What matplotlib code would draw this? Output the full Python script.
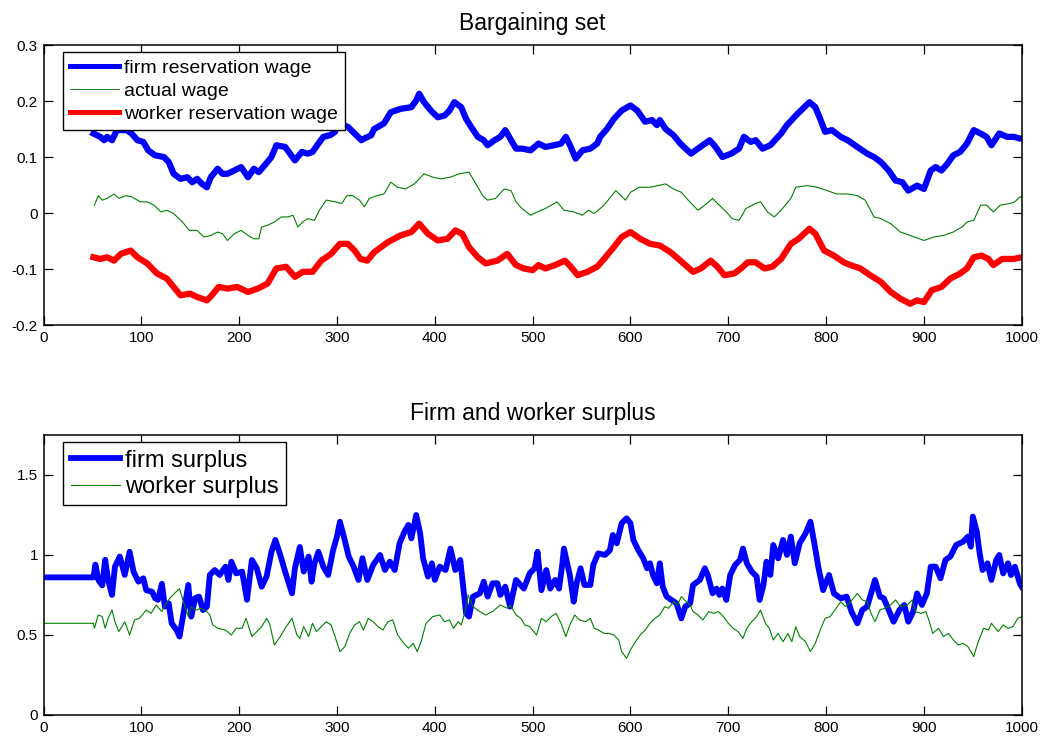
import matplotlib
matplotlib.use("Agg")
import matplotlib.pyplot as plt
from matplotlib.ticker import FuncFormatter

plt.rcParams.update({
    "font.family": ["Liberation Sans", "DejaVu Sans"],
    "axes.unicode_minus": False,
    "xtick.direction": "in",
    "ytick.direction": "in",
    "xtick.top": True,
    "ytick.right": True,
    "xtick.major.size": 6.5,
    "ytick.major.size": 6.5,
    "xtick.major.width": 0.9,
    "ytick.major.width": 0.9,
    "axes.linewidth": 1.1,
    "xtick.labelsize": 11,
    "ytick.labelsize": 11,
})

# ── data (period, value) ─────────────────────────────────────────────
firm_res_t = [51, 58, 62, 65, 70, 75, 85, 90, 96, 102, 107, 114, 123, 128, 133, 140, 147, 152, 157, 162,
              167, 171, 178, 183, 188, 195, 202, 209, 215, 220, 226, 233, 238, 247, 252, 257, 264, 270, 275, 281,
              286, 293, 298, 301, 311, 318, 325, 328, 335, 338, 348, 355, 365, 376, 381, 384, 389, 396, 403, 410,
              415, 420, 427, 432, 437, 444, 450, 454, 461, 467, 472, 478, 483, 489, 498, 506, 513, 522, 529, 534,
              539, 544, 551, 559, 566, 569, 576, 583, 591, 600, 607, 615, 622, 627, 630, 636, 644, 651, 662, 669,
              681, 687, 694, 703, 711, 716, 723, 728, 735, 743, 754, 760, 769, 776, 783, 789, 794, 799, 806, 815,
              822, 832, 842, 849, 856, 864, 871, 878, 884, 893, 900, 907, 912, 918, 924, 930, 937, 944, 951, 958,
              964, 969, 977, 985, 992, 998, 1000]
firm_res_v = [0.142, 0.136, 0.130, 0.136, 0.130, 0.148, 0.148, 0.142, 0.130, 0.127, 0.112, 0.103, 0.100, 0.091,
              0.070, 0.061, 0.064, 0.055, 0.061, 0.052, 0.046, 0.064, 0.079, 0.070, 0.070, 0.076, 0.082, 0.064,
              0.079, 0.073, 0.085, 0.100, 0.121, 0.118, 0.106, 0.094, 0.109, 0.106, 0.109, 0.124, 0.136, 0.139,
              0.145, 0.160, 0.154, 0.142, 0.130, 0.133, 0.139, 0.150, 0.160, 0.180, 0.186, 0.189, 0.201, 0.213,
              0.198, 0.183, 0.171, 0.174, 0.183, 0.198, 0.189, 0.168, 0.154, 0.136, 0.130, 0.121, 0.130, 0.136,
              0.148, 0.130, 0.115, 0.115, 0.112, 0.124, 0.118, 0.121, 0.124, 0.136, 0.118, 0.097, 0.112, 0.115,
              0.124, 0.136, 0.150, 0.168, 0.183, 0.192, 0.183, 0.163, 0.166, 0.157, 0.166, 0.150, 0.139, 0.124,
              0.106, 0.115, 0.130, 0.118, 0.100, 0.106, 0.115, 0.136, 0.127, 0.130, 0.115, 0.121, 0.142, 0.157,
              0.174, 0.186, 0.198, 0.189, 0.168, 0.145, 0.148, 0.136, 0.130, 0.118, 0.106, 0.100, 0.091, 0.076,
              0.058, 0.055, 0.040, 0.049, 0.043, 0.076, 0.082, 0.076, 0.088, 0.103, 0.109, 0.124, 0.148, 0.142,
              0.136, 0.121, 0.142, 0.136, 0.136, 0.133, 0.133]

wage_t = [52, 56, 60, 65, 72, 77, 84, 90, 99, 106, 113, 120, 126, 133, 142, 149, 157, 164, 171, 178,
          183, 188, 195, 202, 209, 215, 220, 223, 229, 236, 243, 250, 255, 260, 265, 270, 277, 282, 289, 298,
          305, 310, 316, 323, 328, 333, 341, 348, 355, 362, 370, 379, 389, 398, 406, 416, 425, 435, 442, 449,
          454, 462, 471, 478, 483, 489, 498, 505, 513, 525, 532, 542, 551, 557, 563, 573, 585, 595, 600, 609,
          620, 636, 644, 652, 659, 669, 676, 684, 689, 698, 704, 711, 718, 728, 733, 740, 747, 754, 764, 769,
          781, 791, 801, 811, 822, 832, 840, 849, 856, 866, 876, 886, 900, 910, 920, 930, 939, 944, 951, 958,
          964, 971, 978, 988, 993, 998, 1000]
wage_v = [0.014, 0.031, 0.023, 0.026, 0.034, 0.026, 0.031, 0.029, 0.020, 0.020, 0.014, 0.002, 0.005, -0.001,
          -0.016, -0.031, -0.031, -0.043, -0.040, -0.034, -0.037, -0.049, -0.037, -0.031, -0.040, -0.046,
          -0.046, -0.025, -0.022, -0.016, -0.007, -0.007, -0.004, -0.025, -0.016, -0.010, -0.013, 0.005, 0.023,
          0.020, 0.017, 0.031, 0.031, 0.023, 0.011, 0.026, 0.031, 0.034, 0.055, 0.046, 0.043, 0.052, 0.070,
          0.064, 0.061, 0.064, 0.070, 0.073, 0.052, 0.031, 0.023, 0.026, 0.043, 0.040, 0.020, 0.008, -0.004,
          0.002, 0.008, 0.020, 0.005, 0.002, -0.004, 0.005, -0.001, 0.014, 0.040, 0.023, 0.037, 0.046, 0.046,
          0.052, 0.043, 0.037, 0.023, 0.005, 0.014, 0.026, 0.017, 0.002, -0.010, -0.013, 0.008, 0.017, 0.020,
          0.002, -0.007, 0.005, 0.026, 0.046, 0.049, 0.046, 0.040, 0.034, 0.034, 0.031, 0.023, -0.007, -0.010,
          -0.019, -0.034, -0.040, -0.049, -0.043, -0.040, -0.034, -0.025, -0.016, -0.013, 0.014, 0.014, 0.002,
          0.014, 0.017, 0.020, 0.029, 0.027]

worker_res_t = [51, 58, 65, 72, 79, 89, 96, 106, 116, 126, 133, 140, 150, 157, 167, 172, 179, 188, 198, 209,
                219, 229, 238, 248, 257, 265, 275, 284, 294, 303, 311, 318, 324, 331, 338, 352, 365, 376, 384, 393,
                403, 413, 421, 428, 435, 444, 452, 464, 474, 483, 491, 500, 506, 513, 523, 533, 539, 546, 556, 566,
                573, 583, 591, 600, 610, 620, 630, 641, 651, 664, 672, 682, 689, 696, 706, 713, 720, 728, 737, 745,
                754, 764, 772, 783, 789, 798, 808, 818, 825, 835, 845, 856, 866, 876, 886, 893, 900, 908, 918, 927,
                937, 944, 951, 959, 966, 971, 980, 992, 1000]
worker_res_v = [-0.079, -0.082, -0.079, -0.085, -0.073, -0.067, -0.079, -0.090, -0.108, -0.117, -0.132, -0.147,
                -0.144, -0.150, -0.156, -0.147, -0.132, -0.135, -0.132, -0.141, -0.135, -0.126, -0.099, -0.096,
                -0.114, -0.105, -0.105, -0.085, -0.073, -0.055, -0.055, -0.067, -0.082, -0.085, -0.070, -0.052,
                -0.040, -0.034, -0.019, -0.037, -0.049, -0.046, -0.031, -0.037, -0.061, -0.079, -0.090, -0.085,
                -0.073, -0.093, -0.099, -0.102, -0.093, -0.099, -0.093, -0.085, -0.096, -0.111, -0.105, -0.096,
                -0.082, -0.061, -0.043, -0.034, -0.046, -0.055, -0.058, -0.070, -0.085, -0.105, -0.099, -0.085,
                -0.096, -0.111, -0.108, -0.099, -0.088, -0.088, -0.099, -0.096, -0.082, -0.055, -0.046, -0.028,
                -0.037, -0.067, -0.076, -0.088, -0.093, -0.099, -0.111, -0.123, -0.141, -0.153, -0.162, -0.156,
                -0.159, -0.138, -0.132, -0.117, -0.108, -0.099, -0.079, -0.076, -0.082, -0.093, -0.082, -0.082,
                -0.079]

firm_surplus_t = [1, 51, 53, 56, 60, 63, 66, 70, 73, 78, 83, 88, 92, 97, 102, 105, 111, 114, 117, 121,
                  124, 128, 131, 136, 139, 143, 148, 151, 155, 159, 163, 167, 170, 175, 180, 186, 189, 192, 197, 203,
                  208, 213, 218, 223, 228, 233, 237, 242, 247, 254, 257, 262, 266, 271, 274, 277, 281, 286, 291, 296,
                  300, 303, 307, 312, 317, 322, 326, 331, 337, 344, 349, 354, 359, 364, 369, 373, 376, 381, 385, 388,
                  393, 397, 400, 405, 411, 416, 421, 426, 429, 432, 435, 439, 446, 450, 454, 459, 464, 467, 472, 477,
                  483, 491, 497, 502, 505, 509, 514, 518, 523, 527, 530, 532, 538, 542, 545, 549, 553, 559, 562, 567,
                  574, 579, 582, 586, 591, 596, 600, 603, 608, 613, 617, 620, 623, 627, 630, 633, 637, 642, 647, 652,
                  656, 661, 664, 671, 676, 679, 684, 688, 691, 694, 698, 702, 707, 712, 715, 719, 724, 729, 732, 736,
                  739, 743, 746, 751, 756, 760, 764, 768, 773, 779, 784, 788, 792, 797, 803, 808, 815, 821, 826, 832,
                  837, 842, 846, 850, 855, 859, 864, 869, 875, 880, 884, 889, 893, 898, 903, 907, 912, 917, 922, 927,
                  933, 940, 945, 948, 950, 954, 957, 960, 965, 969, 974, 977, 981, 986, 989, 993, 998, 1000]
firm_surplus_v = [0.86, 0.86, 0.94, 0.844, 0.81, 0.97, 0.844, 0.75, 0.927, 0.99, 0.875, 1.02, 0.896, 0.833,
                  0.854, 0.78, 0.77, 0.73, 0.72, 0.82, 0.677, 0.698, 0.573, 0.531, 0.49, 0.635, 0.8125, 0.615, 0.73,
                  0.74, 0.656, 0.677, 0.875, 0.906, 0.875, 0.927, 0.844, 0.958, 0.885, 0.896, 0.72, 0.969, 0.917,
                  0.802, 0.865, 1.02, 1.094, 1.0, 0.896, 0.76, 0.917, 1.05, 0.896, 0.99, 0.833, 0.948, 1.02, 0.927,
                  0.875, 1.03, 1.115, 1.208, 1.115, 0.99, 0.927, 0.844, 0.98, 0.844, 0.9375, 1.0, 0.906, 0.958,
                  0.906, 1.073, 1.146, 1.1875, 1.104, 1.25, 1.135, 0.98, 0.865, 0.948, 0.844, 0.927, 0.906, 1.04,
                  0.906, 0.969, 0.802, 0.635, 0.615, 0.74, 0.76, 0.833, 0.74, 0.823, 0.823, 0.75, 0.802, 0.677,
                  0.844, 0.79, 0.885, 0.917, 1.02, 0.78, 0.906, 0.79, 0.844, 0.79, 0.927, 1.04, 0.875, 0.708, 0.823,
                  0.917, 0.8125, 0.8125, 0.9375, 1.01, 1.0, 1.03, 1.125, 1.073, 1.198, 1.229, 1.198, 1.094, 1.03,
                  0.98, 0.917, 0.948, 0.875, 0.823, 0.948, 0.802, 0.74, 0.719, 0.698, 0.604, 0.677, 0.698, 0.8125,
                  0.844, 0.917, 0.875, 0.76, 0.79, 0.75, 0.79, 0.719, 0.875, 0.9375, 0.969, 1.04, 0.948, 0.896,
                  0.865, 0.719, 0.8125, 0.958, 0.875, 1.0625, 0.979, 1.094, 1.0, 1.115, 0.948, 1.073, 1.135, 1.208,
                  1.073, 0.927, 0.78, 0.875, 0.76, 0.729, 0.74, 0.646, 0.573, 0.656, 0.677, 0.76, 0.844, 0.74,
                  0.729, 0.656, 0.583, 0.656, 0.688, 0.583, 0.646, 0.76, 0.688, 0.76, 0.927, 0.927, 0.854, 0.969,
                  0.99, 1.0625, 1.083, 1.115, 1.052, 1.24, 1.146, 1.01, 0.906, 0.948, 0.844, 0.969, 1.0, 0.885,
                  0.948, 0.875, 0.927, 0.823, 0.802]

worker_surplus_t = [1, 51, 52, 56, 60, 63, 66, 70, 73, 77, 83, 88, 93, 98, 105, 110, 115, 121, 124, 129,
                    134, 139, 143, 148, 151, 156, 161, 167, 170, 173, 178, 186, 192, 197, 203, 207, 213, 218, 223, 228,
                    231, 236, 242, 247, 254, 259, 262, 266, 271, 275, 279, 284, 289, 294, 298, 303, 308, 313, 318, 323,
                    327, 332, 337, 342, 347, 352, 357, 362, 367, 373, 378, 382, 386, 391, 398, 405, 410, 415, 419, 424,
                    427, 431, 434, 439, 446, 452, 459, 467, 474, 477, 483, 488, 492, 497, 504, 509, 514, 519, 524, 529,
                    534, 538, 543, 548, 554, 559, 563, 567, 573, 578, 583, 588, 591, 596, 600, 605, 610, 615, 620, 625,
                    630, 635, 639, 644, 648, 652, 657, 661, 664, 669, 674, 680, 685, 690, 695, 700, 705, 710, 715, 719,
                    724, 729, 733, 738, 742, 746, 751, 756, 761, 765, 769, 773, 779, 784, 789, 794, 799, 804, 809, 815,
                    820, 825, 832, 837, 842, 846, 850, 855, 860, 866, 871, 876, 883, 888, 891, 897, 902, 905, 909, 915,
                    920, 925, 930, 935, 940, 945, 951, 955, 961, 966, 969, 976, 981, 986, 991, 996, 1000]
worker_surplus_v = [0.573, 0.573, 0.542, 0.625, 0.615, 0.542, 0.604, 0.656, 0.583, 0.521, 0.583, 0.5, 0.594,
                    0.604, 0.656, 0.635, 0.6875, 0.646, 0.6875, 0.729, 0.76, 0.79, 0.708, 0.615, 0.677, 0.656,
                    0.667, 0.646, 0.625, 0.5625, 0.542, 0.531, 0.5, 0.542, 0.542, 0.604, 0.49, 0.521, 0.552, 0.604,
                    0.573, 0.4375, 0.49, 0.542, 0.604, 0.5, 0.479, 0.552, 0.49, 0.573, 0.521, 0.552, 0.583, 0.5625,
                    0.49, 0.396, 0.427, 0.51, 0.5625, 0.583, 0.531, 0.604, 0.583, 0.552, 0.531, 0.583, 0.594, 0.5,
                    0.458, 0.417, 0.448, 0.396, 0.458, 0.573, 0.615, 0.625, 0.583, 0.594, 0.542, 0.583, 0.5625,
                    0.646, 0.75, 0.677, 0.646, 0.625, 0.646, 0.6875, 0.667, 0.6875, 0.625, 0.604, 0.5625, 0.552,
                    0.5, 0.604, 0.583, 0.615, 0.635, 0.573, 0.49, 0.5625, 0.625, 0.594, 0.583, 0.604, 0.542, 0.531,
                    0.51, 0.51, 0.5, 0.469, 0.396, 0.354, 0.406, 0.458, 0.5, 0.531, 0.573, 0.604, 0.625, 0.677,
                    0.667, 0.708, 0.6875, 0.74, 0.708, 0.6875, 0.646, 0.625, 0.594, 0.646, 0.635, 0.646, 0.615,
                    0.573, 0.542, 0.521, 0.479, 0.542, 0.583, 0.615, 0.656, 0.573, 0.542, 0.469, 0.51, 0.458, 0.51,
                    0.458, 0.552, 0.49, 0.458, 0.396, 0.448, 0.531, 0.604, 0.615, 0.656, 0.708, 0.677, 0.708, 0.76,
                    0.719, 0.708, 0.635, 0.583, 0.656, 0.667, 0.6875, 0.719, 0.677, 0.6875, 0.719, 0.646, 0.635,
                    0.646, 0.594, 0.51, 0.542, 0.49, 0.51, 0.469, 0.4375, 0.448, 0.427, 0.365, 0.448, 0.542, 0.531,
                    0.573, 0.521, 0.5625, 0.542, 0.552, 0.604, 0.615]

BLUE, GREEN, RED = "#0000ff", "#008000", "#ff0000"
fmt = FuncFormatter(lambda v, _: f"{v:g}")

fig = plt.figure(figsize=(10.49, 7.38), dpi=100)

# ── top panel: bargaining set ─────────────────────────────────────────
ax1 = fig.add_axes([0.0415, 0.5596, 0.9325, 0.3794])
ax1.plot(firm_res_t, firm_res_v, color=BLUE, lw=4.5, solid_joinstyle="round", label="firm reservation wage")
ax1.plot(wage_t, wage_v, color=GREEN, lw=0.8, label="actual wage")
ax1.plot(worker_res_t, worker_res_v, color=RED, lw=4.5, solid_joinstyle="round", label="worker reservation wage")
ax1.set_xlim(0, 1000)
ax1.set_ylim(-0.2, 0.3)
ax1.set_xticks(range(0, 1001, 100))
ax1.set_yticks([-0.2, -0.1, 0, 0.1, 0.2, 0.3])
ax1.yaxis.set_major_formatter(fmt)
ax1.tick_params(pad=4)
ax1.set_title("Bargaining set", fontsize=16.5, pad=11)
leg1 = ax1.legend(loc="upper left", bbox_to_anchor=(0.02, 0.975), borderaxespad=0, fontsize=14,
                  fancybox=False, edgecolor="black", framealpha=1, handlelength=2.5, handletextpad=0.25,
                  labelspacing=0.27, borderpad=0.38)
leg1.get_frame().set_linewidth(1.0)
for h in leg1.get_lines():
    h.set_linewidth(h.get_linewidth() * 0.8)

# ── bottom panel: surpluses ───────────────────────────────────────────
ax2 = fig.add_axes([0.0415, 0.0312, 0.9325, 0.3794])
ax2.plot(firm_surplus_t, firm_surplus_v, color=BLUE, lw=4.2, solid_joinstyle="round", label="firm surplus")
ax2.plot(worker_surplus_t, worker_surplus_v, color=GREEN, lw=0.8, label="worker surplus")
ax2.set_xlim(0, 1000)
ax2.set_ylim(0, 1.75)
ax2.set_xticks(range(0, 1001, 100))
ax2.set_yticks([0, 0.5, 1, 1.5])
ax2.yaxis.set_major_formatter(fmt)
ax2.tick_params(pad=4)
ax2.set_title("Firm and worker surplus", fontsize=16.5, pad=11)
leg2 = ax2.legend(loc="upper left", bbox_to_anchor=(0.02, 0.975), borderaxespad=0, fontsize=17,
                  fancybox=False, edgecolor="black", framealpha=1, handlelength=2.1, handletextpad=0.2,
                  labelspacing=0.18, borderpad=0.32)
leg2.get_frame().set_linewidth(1.0)

fig.savefig("out.png", dpi=100)
